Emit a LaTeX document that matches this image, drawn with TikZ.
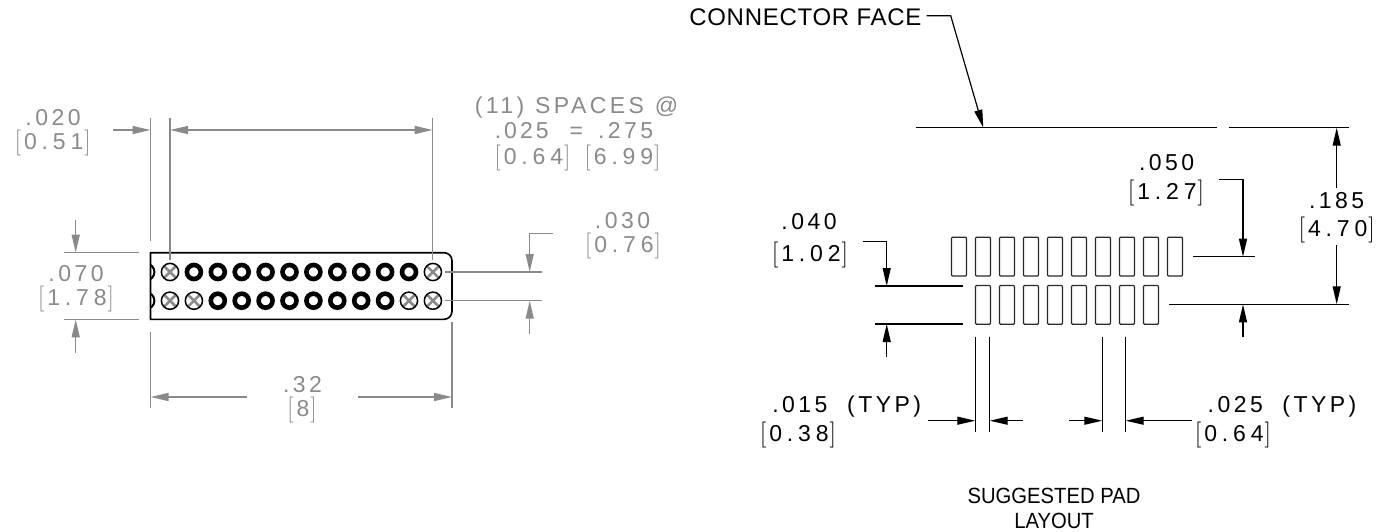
\documentclass[tikz,border=0pt]{standalone}
\usepackage{fontspec}
\newfontfamily\dimfont[LetterSpace=15]{Liberation Sans}
\newfontfamily\brfont[LetterSpace=21]{Liberation Sans}
\newfontfamily\capfont[LetterSpace=3]{Liberation Sans}
\newfontfamily\plainfont{Liberation Sans}
\usetikzlibrary{arrows.meta}
\definecolor{dimgray}{HTML}{8A8A8A}
\definecolor{padline}{HTML}{2A2A2A}
\newcommand{\lbk}{{\normalfont\fontsize{26}{26}\selectfont[}\kern3pt\begingroup\brfont\fontsize{23}{23}\selectfont}
\newcommand{\rbk}{\endgroup\kern1pt{\normalfont\fontsize{26}{26}\selectfont]}}
\tikzset{
  dimtip/.style={-{Triangle[length=18pt,width=8pt]}},
  grayline/.style={draw=dimgray,line width=1.3pt},
  blackline/.style={draw=black,line width=1.2pt},
  graytext/.style={text=dimgray,inner sep=0pt,anchor=base,font=\dimfont\fontsize{23}{23}\selectfont},
  blacktext/.style={text=black,inner sep=0pt,anchor=base,font=\dimfont\fontsize{23}{23}\selectfont},
  captext/.style={text=black,inner sep=0pt,anchor=base,font=\capfont\fontsize{24}{24}\selectfont},
  plaintext/.style={text=black,inner sep=0pt,anchor=base,font=\plainfont\fontsize{22}{22}\selectfont},
  padbox/.style={draw=padline,line width=1.2pt,rounded corners=1pt},
  fullpin/.style={draw=black,line width=4.6pt},
  crosspin/.style={draw=black,line width=1.5pt},
  crossmark/.style={draw=dimgray,line width=2.6pt}
}
\begin{document}
\begin{tikzpicture}[x=1pt,y=-1pt]
\useasboundingbox (0,0) rectangle (1397,531);
% ---- connector body ----
\draw[black,line width=1.6pt] (150.5,252.7) [rounded corners=8pt] -- (452,252.7) -- (452,319.3) [sharp corners] -- (150.5,319.3) -- cycle;
\begin{scope}
\clip (150.5,255) rectangle (170,318);
\foreach \yy in {272,300.7} \draw[fullpin,line width=2pt] (146,\yy) circle (8.4pt);
\end{scope}
\foreach \k in {1,...,10} \draw[fullpin] ({170+23.9*\k},272) circle (7pt);
\foreach \k in {2,...,9} \draw[fullpin] ({170+23.9*\k},300.7) circle (7pt);
\foreach \xx/\yy in {170/272,432.9/272,170/300.7,193.9/300.7,409/300.7,432.9/300.7}{
  \draw[crossmark] (\xx-5.5,\yy-5.5) -- (\xx+5.5,\yy+5.5) (\xx-5.5,\yy+5.5) -- (\xx+5.5,\yy-5.5);
  \draw[crosspin] (\xx,\yy) circle (8.6pt);
}
% ---- left dimensions ----
\draw[grayline] (150.5,118) -- (150.5,240.7);
\draw[grayline] (170,118) -- (170,260);
\draw[grayline] (432.7,118) -- (432.7,260);
\draw[grayline,dimtip] (113,130) -- (150.5,130);
\draw[grayline,{Triangle[length=18pt,width=8pt]}-{Triangle[length=18pt,width=8pt]}] (170,130) -- (432.7,130);
\draw[grayline] (64,252.7) -- (138.5,252.7);
\draw[grayline] (64,319.3) -- (138.5,319.3);
\draw[grayline,dimtip] (75.7,220) -- (75.7,252.7);
\draw[grayline,dimtip] (75.7,353) -- (75.7,319.3);
\draw[grayline] (150.5,332) -- (150.5,408);
\draw[grayline] (452,322) -- (452,408);
\draw[grayline,dimtip] (247,397) -- (150.5,397);
\draw[grayline,dimtip] (358,397) -- (452,397);
\draw[grayline] (445,272) -- (541.7,272);
\draw[grayline] (445,300.7) -- (541.7,300.7);
\draw[grayline,dimtip] (553,233.3) -- (529.7,233.3) -- (529.7,272);
\draw[grayline,dimtip] (529.7,334) -- (529.7,300.7);
% ---- left labels ----
\node[graytext] (d020) at (53,125) {.020};
\node[graytext] (d051) at (52.7,149) {\lbk0.51\rbk};
\node[graytext] (spaces) at (576.5,113.3) {(11)\kern1pt\ SPACES\kern1pt\ @};
\node[graytext] (d025a) at (574,138.3) {.\kern3pt0\kern3pt2\kern3pt5\kern21pt=\kern15pt.275};
\node[graytext] (d064a) at (577.5,164.3) {\lbk0.64\rbk\ \kern4pt\lbk6.99\rbk};
\node[graytext] (d030) at (622.5,228) {.030};
\node[graytext] (d076) at (623,252) {\lbk0.76\rbk};
\node[graytext] (d070) at (76,281.7) {.070};
\node[graytext] (d178) at (76,305.7) {\lbk1.78\rbk};
\node[graytext] (d32) at (302.5,392) {.32};
\node[graytext] (d8) at (302,416) {\lbk8\rbk};
% ---- pads ----
\foreach \k in {0,...,9} \draw[padbox] ({951.5+24*\k},237.3) rectangle ++(15,38.7);
\foreach \k in {0,...,7} \draw[padbox] ({975.5+24*\k},285.5) rectangle ++(15,38.7);
% ---- right dimensions ----
\draw[blackline] (916,127.7) -- (1216.7,127.7);
\draw[blackline] (1229,127.7) -- (1348.7,127.7);
\draw[blackline,dimtip] (926.7,15.7) -- (950.7,15.7) -- (983.3,127.7);
\draw[blackline,dimtip] (1336.7,188) -- (1336.7,127.7);
\draw[blackline,dimtip] (1336.7,245) -- (1336.7,304.3);
\draw[blackline] (1169,304.3) -- (1348.7,304.3);
\draw[blackline] (1193,256.7) -- (1255,256.7);
\draw[blackline,dimtip] (1219.3,179.7) -- (1243,179.7) -- (1243,256.7);
\draw[blackline,dimtip] (1243,337.3) -- (1243,304.3);
\draw[blackline] (874.7,286) -- (963.3,286);
\draw[blackline] (874.7,324) -- (963.3,324);
\draw[blackline,dimtip] (863,241.7) -- (886.7,241.7) -- (886.7,286);
\draw[blackline,dimtip] (886.7,357) -- (886.7,324);
\draw[blackline] (975.3,336.7) -- (975.3,432.3);
\draw[blackline] (989.7,336.7) -- (989.7,432.3);
\draw[blackline] (1102.3,336.7) -- (1102.3,432.3);
\draw[blackline] (1125.7,336.7) -- (1125.7,432.3);
\draw[blackline,dimtip] (928.3,420.7) -- (975.3,420.7);
\draw[blackline,dimtip] (1022.7,420.7) -- (989.7,420.7);
\draw[blackline,dimtip] (1069.3,420.7) -- (1102.3,420.7);
\draw[blackline,dimtip] (1191.7,420.7) -- (1125.7,420.7);
% ---- right labels ----
\node[captext,anchor=base east] (face) at (921.7,25) {CONNECTOR FACE};
\node[blacktext] (d040) at (809,229) {.040};
\node[blacktext] (d102) at (810,261) {\lbk1.02\rbk};
\node[blacktext] (d050) at (1166.7,170.7) {.050};
\node[blacktext] (d127) at (1166,199.7) {\lbk1.27\rbk};
\node[blacktext] (d185) at (1336.7,208) {.185};
\node[blacktext] (d470) at (1336.7,236) {\lbk4.70\rbk};
\node[blacktext] (d015) at (846.7,412) {.015\ \ (TYP)};
\node[blacktext] (d038) at (798,441) {\lbk0.38\rbk};
\node[blacktext] (d025) at (1282,412) {.025\ \ (TYP)};
\node[blacktext] (d064) at (1233,441) {\lbk0.64\rbk};
\node[plaintext] (sugg) at (1054,503.5) {\scalebox{0.92}[1]{SUGGESTED PAD}};
\node[plaintext] (layout) at (1054,528) {\scalebox{0.92}[1]{LAYOUT}};
\end{tikzpicture}
\end{document}
